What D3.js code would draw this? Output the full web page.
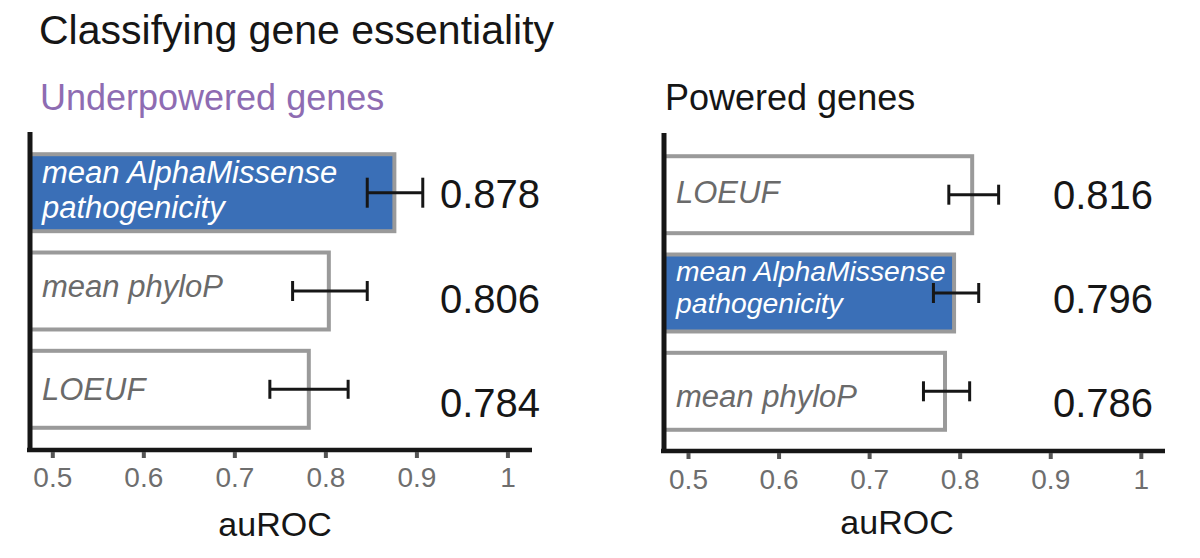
<!DOCTYPE html>
<html>
<head>
<meta charset="utf-8">
<script src="https://cdn.jsdelivr.net/npm/d3@7"></script>
<style>
  html, body { margin: 0; padding: 0; background: #ffffff; }
  svg { display: block; font-family: "Liberation Sans", Arial, Helvetica, sans-serif; }
</style>
</head>
<body>
<svg id="chart" width="1200" height="558"></svg>
<script>
// ---------------- data ----------------
const chartTitle = "Classifying gene essentiality";
const axisLabel = "auROC";
const tickValues = [0.5, 0.6, 0.7, 0.8, 0.9, 1];

const leftTitle = "Underpowered genes";
const leftCategories = ["mean AlphaMissense pathogenicity", "mean phyloP", "LOEUF"];
const leftValues = [0.878, 0.806, 0.784];
const leftLower  = [0.846, 0.764, 0.739];
const leftUpper  = [0.907, 0.846, 0.825];

const rightTitle = "Powered genes";
const rightCategories = ["LOEUF", "mean AlphaMissense pathogenicity", "mean phyloP"];
const rightValues = [0.816, 0.796, 0.786];
const rightLower  = [0.788, 0.771, 0.760];
const rightUpper  = [0.843, 0.821, 0.811];

const highlightCategory = "mean AlphaMissense pathogenicity";
const labelLines = {
  "mean AlphaMissense pathogenicity": ["mean AlphaMissense", "pathogenicity"],
  "mean phyloP": ["mean phyloP"],
  "LOEUF": ["LOEUF"]
};

// ---------------- layout / style ----------------
const FONT = '"Liberation Sans", Arial, Helvetica, sans-serif';
const BLUE = "#3a6fb7";
const BAR_STROKE = "#9a9a9a";
const INK = "#161616";

const panels = [
  {
    title: leftTitle, titleColor: "#8e6cb2", titleX: 40,
    categories: leftCategories, values: leftValues, lower: leftLower, upper: leftUpper,
    domain: [0.4755, 1.027], range: [30, 532],
    yTop: 132, yAxis: 450, bandRange: [132, 450],
    valueX: 440, valueY: [208, 417],
    labelDx: 12, labelDy: [-10, 5.5, 11], labelSize: [31, 31, 31],
    capH: [30, 20, 19],
    auX: 275, auY: 536, tickBase: 487
  },
  {
    title: rightTitle, titleColor: "#151515", titleX: 665,
    categories: rightCategories, values: rightValues, lower: rightLower, upper: rightUpper,
    domain: [0.4735, 1.0267], range: [664, 1165],
    yTop: 133, yAxis: 451, bandRange: [134, 452],
    valueX: 1053, valueY: [208.5, 416.7],
    labelDx: 12, labelDy: [8, -12, 16], labelSize: [31, 28.3, 31],
    capH: [20, 20, 20],
    auX: 897, auY: 534, tickBase: 489
  }
];

const svg = d3.select("#chart");

svg.append("text")
  .attr("x", 39).attr("y", 44)
  .attr("font-size", 41).attr("fill", INK)
  .text(chartTitle);

panels.forEach(p => {
  const g = svg.append("g");
  const x = d3.scaleLinear().domain(p.domain).range(p.range);
  const y = d3.scaleBand().domain(p.categories).range(p.bandRange)
    .paddingInner(0.217).paddingOuter(0.226);
  const vy = d3.scalePoint().domain(p.categories).range(p.valueY);
  const x0 = p.range[0];

  // panel title
  g.append("text")
    .attr("x", p.titleX).attr("y", 110)
    .attr("font-size", 36).attr("fill", p.titleColor)
    .text(p.title);

  // bars
  const rows = p.categories.map((c, i) => ({
    c, i, v: p.values[i], lo: p.lower[i], hi: p.upper[i]
  }));

  g.selectAll("rect.bar").data(rows).enter().append("rect")
    .attr("class", "bar")
    .attr("x", x0)
    .attr("y", d => y(d.c))
    .attr("width", d => x(d.v) - x0 - 2)
    .attr("height", y.bandwidth())
    .attr("fill", d => d.c === highlightCategory ? BLUE : "#ffffff")
    .attr("stroke", BAR_STROKE)
    .attr("stroke-width", 4);

  // labels inside bars
  rows.forEach(d => {
    const lines = labelLines[d.c];
    const fs = p.labelSize[d.i];
    const lh = fs * 1.13;
    const cy = y(d.c) + y.bandwidth() / 2;
    const t = g.append("text")
      .attr("x", x0 + p.labelDx)
      .attr("font-size", fs)
      .attr("font-style", "italic")
      .attr("fill", d.c === highlightCategory ? "#ffffff" : "#6a6a6a");
    lines.forEach((ln, k) => {
      t.append("tspan")
        .attr("x", x0 + p.labelDx)
        .attr("y", cy + p.labelDy[d.i] + (lines.length === 1 ? 0 : (k * lh)))
        .text(ln);
    });
  });

  // error bars
  const eb = g.selectAll("g.err").data(rows).enter().append("g")
    .attr("class", "err")
    .attr("stroke", INK).attr("stroke-width", 3);
  eb.append("line")
    .attr("x1", d => x(d.lo)).attr("x2", d => x(d.hi))
    .attr("y1", d => y(d.c) + y.bandwidth() / 2)
    .attr("y2", d => y(d.c) + y.bandwidth() / 2);
  eb.append("line")
    .attr("x1", d => x(d.lo)).attr("x2", d => x(d.lo))
    .attr("y1", d => y(d.c) + y.bandwidth() / 2 - p.capH[d.i] / 2)
    .attr("y2", d => y(d.c) + y.bandwidth() / 2 + p.capH[d.i] / 2);
  eb.append("line")
    .attr("x1", d => x(d.hi)).attr("x2", d => x(d.hi))
    .attr("y1", d => y(d.c) + y.bandwidth() / 2 - p.capH[d.i] / 2)
    .attr("y2", d => y(d.c) + y.bandwidth() / 2 + p.capH[d.i] / 2);

  // value labels
  g.selectAll("text.val").data(rows).enter().append("text")
    .attr("class", "val")
    .attr("x", p.valueX)
    .attr("y", d => vy(d.c))
    .attr("font-size", 40)
    .attr("fill", INK)
    .text(d => d3.format(".3f")(d.v));

  // x axis
  const ax = g.append("g")
    .attr("transform", `translate(0,${p.yAxis})`)
    .call(d3.axisBottom(x).tickValues(tickValues).tickSize(8).tickSizeOuter(0)
      .tickFormat(d => d === 1 ? "1" : d.toFixed(1)));
  ax.select(".domain").attr("stroke", INK).attr("stroke-width", 4.5)
    .attr("d", `M${x0 - 3},0H${p.range[1]}`);
  ax.selectAll(".tick line").attr("stroke", "#555555").attr("stroke-width", 4)
    .attr("y1", 2);
  ax.selectAll(".tick text")
    .attr("font-family", FONT)
    .attr("font-size", 28)
    .attr("fill", "#6e6e6e")
    .attr("dy", null)
    .attr("y", p.tickBase - p.yAxis);

  // y axis line
  const ya = g.append("g").attr("transform", `translate(${x0},0)`)
    .call(d3.axisLeft(y).tickSize(0).tickFormat(""));
  ya.select(".domain").attr("stroke", INK).attr("stroke-width", 5)
    .attr("d", `M0,${p.yTop}V${p.yAxis + 2}`);

  // axis title
  g.append("text")
    .attr("x", p.auX).attr("y", p.auY)
    .attr("text-anchor", "middle")
    .attr("font-size", 34)
    .attr("fill", INK)
    .text(axisLabel);
});
</script>
</body>
</html>
